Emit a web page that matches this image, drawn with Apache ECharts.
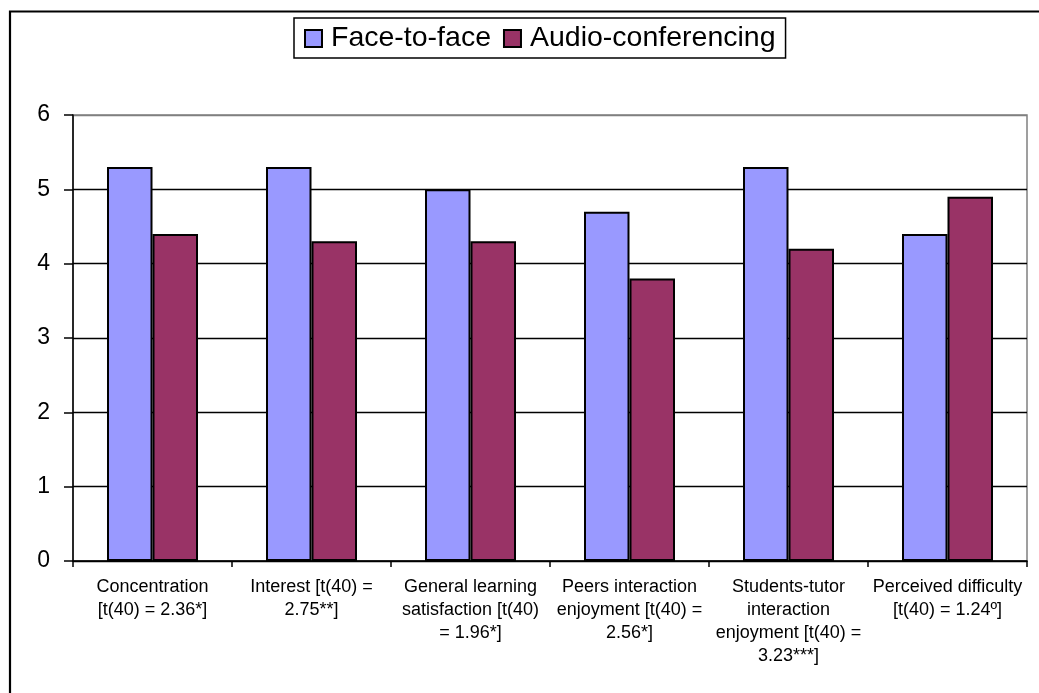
<!DOCTYPE html>
<html>
<head>
<meta charset="utf-8">
<script src="https://cdn.jsdelivr.net/npm/echarts@6/dist/echarts.min.js"></script>
<style>
  html, body { margin: 0; padding: 0; background: #fff; }
  #chart { width: 1039px; height: 693px; }
</style>
</head>
<body>
<div id="chart"></div>
<script>
// Measures compared between the two learning conditions
const categories = [
  'Concentration\n[t(40) = 2.36*]',
  'Interest [t(40) =\n2.75**]',
  'General learning\nsatisfaction [t(40)\n= 1.96*]',
  'Peers interaction\nenjoyment [t(40) =\n2.56*]',
  'Students-tutor\ninteraction\nenjoyment [t(40) =\n3.23***]',
  'Perceived difficulty\n[t(40) = 1.24º]'
];
const faceToFace = [5.3, 5.3, 5.0, 4.7, 5.3, 4.4];
const audioConferencing = [4.4, 4.3, 4.3, 3.8, 4.2, 4.9];
const yTicks = [0, 1, 2, 3, 4, 5, 6];

const FONT = '"Liberation Sans", Arial, sans-serif';
const chart = echarts.init(document.getElementById('chart'), null, { renderer: 'canvas' });

chart.setOption({
  backgroundColor: '#fff',
  animation: false,
  graphic: [{
    // page frame (runs off the right and bottom edges)
    type: 'rect',
    shape: { x: 10, y: 11.5, width: 1200, height: 900 },
    style: { fill: 'none', stroke: '#000', lineWidth: 2.2 },
    silent: true,
    z: 100
  }],
  legend: {
    left: 294,
    top: 18,
    padding: [6, 10, 5, 10],
    borderColor: '#000',
    borderWidth: 1.5,
    itemWidth: 17,
    itemHeight: 17,
    itemGap: 12,
    icon: 'rect',
    itemStyle: { borderColor: '#000', borderWidth: 2 },
    textStyle: { fontFamily: FONT, fontSize: 28.5, color: '#000', padding: [0, 0, 0, 4] },
    data: ['Face-to-face', 'Audio-conferencing']
  },
  grid: {
    left: 73, right: 12, top: 115, bottom: 132,
    show: true, borderColor: '#808080', borderWidth: 1.5, backgroundColor: 'transparent'
  },
  xAxis: {
    type: 'category',
    data: categories,
    axisLine: { show: true, lineStyle: { color: '#000', width: 1.5 } },
    axisTick: { show: true, length: 6, alignWithLabel: false, lineStyle: { color: '#000', width: 1.5 } },
    axisLabel: {
      interval: 0, margin: 15, color: '#000',
      fontFamily: FONT, fontSize: 18, lineHeight: 23, align: 'center'
    },
    splitLine: { show: false }
  },
  yAxis: {
    type: 'value',
    min: yTicks[0],
    max: yTicks[yTicks.length - 1],
    interval: 1,
    axisLine: { show: true, lineStyle: { color: '#000', width: 1.5 } },
    axisTick: { show: true, length: 9, lineStyle: { color: '#000', width: 1.5 } },
    axisLabel: { margin: 23, color: '#000', fontFamily: FONT, fontSize: 23 },
    splitLine: {
      show: true,
      lineStyle: { color: ['#000', '#000', '#000', '#000', '#000', '#000', '#808080'], width: 1.4 }
    }
  },
  series: [
    {
      name: 'Face-to-face', type: 'bar', data: faceToFace,
      barWidth: 45.5, barGap: '0%',
      itemStyle: { color: '#9999FF', borderColor: '#000', borderWidth: 2 }
    },
    {
      name: 'Audio-conferencing', type: 'bar', data: audioConferencing,
      barWidth: 45.5,
      itemStyle: { color: '#993366', borderColor: '#000', borderWidth: 2 }
    }
  ]
});
</script>
</body>
</html>
